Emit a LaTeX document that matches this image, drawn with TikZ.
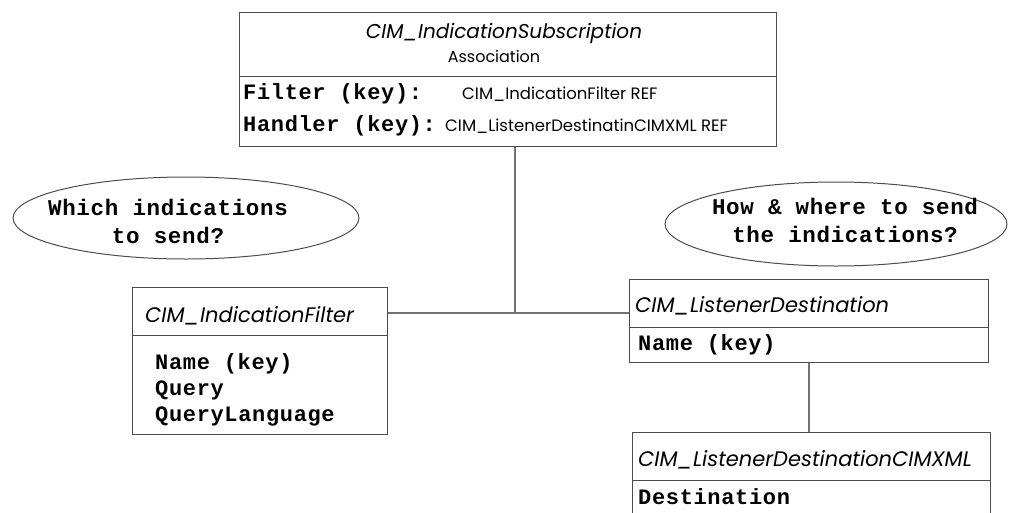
\documentclass[tikz,border=0pt]{standalone}
\usepackage{fontspec}
\setsansfont{Poppins}
\setmonofont{Liberation Mono}[LetterSpace=3]
\usetikzlibrary{
    positioning,        % For relative placement
    shapes.geometric    % For the ellipses
}

\begin{document}
\begin{tikzpicture}[
    x=1pt, y=-1pt, % pixel-like units, y downwards
    box/.style={draw=black!70, line width=1pt, anchor=north west, inner sep=0pt}, % Class boxes
    sepline/.style={draw=black!70, line width=1pt}, % Line under a class name
    link/.style={draw=black!55, line width=1.2pt}, % Connectors
    clsname/.style={font=\sffamily\itshape\fontsize{21}{24}\selectfont, anchor=base west, inner sep=0pt},
    reftype/.style={font=\sffamily\fontsize{16.5}{20}\selectfont, anchor=base west, inner sep=0pt},
    field/.style={font=\ttfamily\bfseries\fontsize{22}{26}\selectfont, anchor=base west, inner sep=0pt},
    bubble/.style={draw=black!70, line width=1pt, ellipse, inner sep=0pt},
    bubbletext/.style={font=\ttfamily\bfseries\fontsize{22.5}{28}\selectfont, align=center, inner sep=0pt}
]

    % Canvas
    \useasboundingbox (0,0) rectangle (1010,512);
    \clip (0,0) rectangle (1010,512);

    % Association box
    \node[box, minimum width=537, minimum height=134] (subscr) at (239,12) {};
    \coordinate (subsep) at (239,76);
    \draw[sepline] (subsep) -- (subsep -| subscr.east);
    \node[clsname, font=\sffamily\itshape\fontsize{20}{24}\selectfont, anchor=base] (subname) at (504,38) {CIM\_IndicationSubscription};
    \node[font=\sffamily\fontsize{16}{18}\selectfont, anchor=base, inner sep=0pt] (subkind) at (494,62) {Association};
    \node[field] (filterkey) at (243,99) {Filter (key):};
    \node[reftype] (filterref) at (462,99) {CIM\_IndicationFilter REF};
    \node[field] (handlerkey) at (243,131) {Handler (key):};
    \node[reftype] (handlerref) at (445,131) {CIM\_ListenerDestinatinCIMXML REF};

    % Filter class
    \node[box, minimum width=255, minimum height=147] (filter) at (132,287) {};
    \coordinate (filtersep) at (132,335);
    \draw[sepline] (filtersep) -- (filtersep -| filter.east);
    \node[clsname] (filtername) at (145,322) {CIM\_IndicationFilter};
    \node[field] (fname) at (155,369) {Name (key)};
    \node[field] (fquery) at (155,395) {Query};
    \node[field] (flang) at (155,421) {QueryLanguage};

    % Listener destination class
    \node[box, minimum width=359, minimum height=83] (dest) at (629,279) {};
    \coordinate (destsep) at (629,327);
    \draw[sepline] (destsep) -- (destsep -| dest.east);
    \node[clsname] (destname) at (635,312) {CIM\_ListenerDestination};
    \node[field] (dname) at (638,350) {Name (key)};

    % CIMXML subclass
    \node[box, minimum width=358, minimum height=100] (xml) at (632,432) {};
    \coordinate (xmlsep) at (632,480);
    \draw[sepline] (xmlsep) -- (xmlsep -| xml.east);
    \node[clsname] (xmlname) at (638,466) {CIM\_ListenerDestinationCIMXML};
    \node[field] (xdest) at (638,504) {Destination};

    % Notes
    \node[bubble, minimum width=346, minimum height=82] (whichnote) at (186,218) {};
    \node[bubbletext] (whichtext) at (168,221) {Which indications\\to send?};
    \node[bubble, minimum width=342, minimum height=84] (hownote) at (836,224) {};
    \node[bubbletext] (howtext) at (845,220) {How \& where to send\\the indications?};

    % Connectors
    \coordinate (junc) at (515,313);
    \draw[link] (subscr.south -| junc) -- (junc);
    \draw[link] (filter.east |- junc) -- (dest.west |- junc);
    \draw[link] (dest.south) -- (dest.south |- xml.north);

\end{tikzpicture}
\end{document}
